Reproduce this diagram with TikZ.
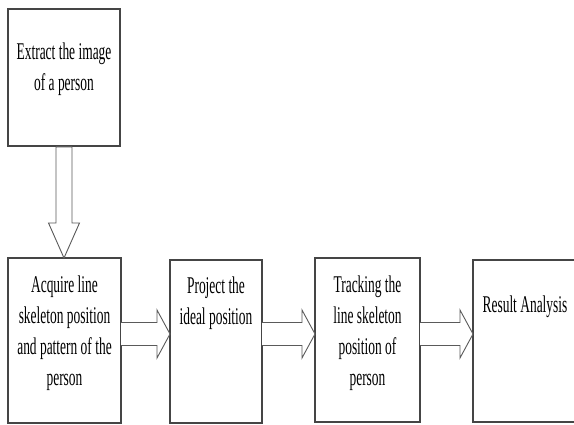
\documentclass[tikz,border=0pt]{standalone}
\usepackage{fontspec}
\setmainfont[FakeStretch=0.56]{Liberation Serif}
\usetikzlibrary{calc}
\definecolor{boxgray}{HTML}{454545}
\definecolor{arrgray}{HTML}{5A5A5A}
\begin{document}
\begin{tikzpicture}[x=1pt,y=1pt,
  box/.style={draw=boxgray, line width=1.3pt, fill=white, inner sep=0pt, outer sep=0pt},
  lbl/.style={font=\fontsize{24}{31}\selectfont, align=center, inner sep=0pt, anchor=north, text=black},
  arr/.style={draw=arrgray, line width=0.9pt, fill=white, line join=miter}]
\clip (0,0) rectangle (574,425);
\fill[white] (0,0) rectangle (574,425);
% boxes
\node[box, minimum width=112pt, minimum height=137pt] (b1) at (64,347.5) {};
\node[box, minimum width=113pt, minimum height=165pt] (b2) at (64.5,84.5) {};
\node[box, minimum width=92pt, minimum height=163pt] (b3) at (216,83.5) {};
\node[box, minimum width=105pt, minimum height=164pt] (b4) at (367.5,85) {};
\node[box, minimum width=104pt, minimum height=162pt] (b5) at (525,84) {};
% labels
\node[lbl] (t1) at ($(b1.north)+(0,-33.5)$) {Extract the image\\of a person};
\node[lbl] (t2) at ($(b2.north)+(0,-17.5)$) {Acquire line\\skeleton position\\and pattern of the\\person};
\node[lbl] (t3) at ($(b3.north)+(0,-16.5)$) {Project the\\ideal position};
\node[lbl] (t4) at ($(b4.north)+(0,-17.5)$) {Tracking the\\line skeleton\\position of\\person};
\node[lbl] (t5) at ($(b5.north)+(0,-35.5)$) {Result Analysis};
% vertical block arrow
\coordinate (vt) at (b1.south |- b2.north);
\draw[arr] ($(b1.south)+(-8,-1)$) -- ($(b1.south)+(-8,-77)$) -- ($(b1.south)+(-15.5,-77)$)
  -- (vt) -- ($(b1.south)+(15.5,-77)$) -- ($(b1.south)+(8,-77)$) -- ($(b1.south)+(8,-1)$) -- cycle;
% horizontal block arrows
\coordinate (mid) at (0,91);
\foreach \a/\b in {b2/b3, b3/b4, b4/b5}{
  \coordinate (s) at (\a.east |- mid);
  \coordinate (t) at (\b.west |- mid);
  \draw[arr] ($(s)+(0,11.5)$) -- ($(t)+(-13,11.5)$) -- ($(t)+(-13,24)$) -- (t)
    -- ($(t)+(-13,-24)$) -- ($(t)+(-13,-11.5)$) -- ($(s)+(0,-11.5)$);
}
\end{tikzpicture}
\end{document}
